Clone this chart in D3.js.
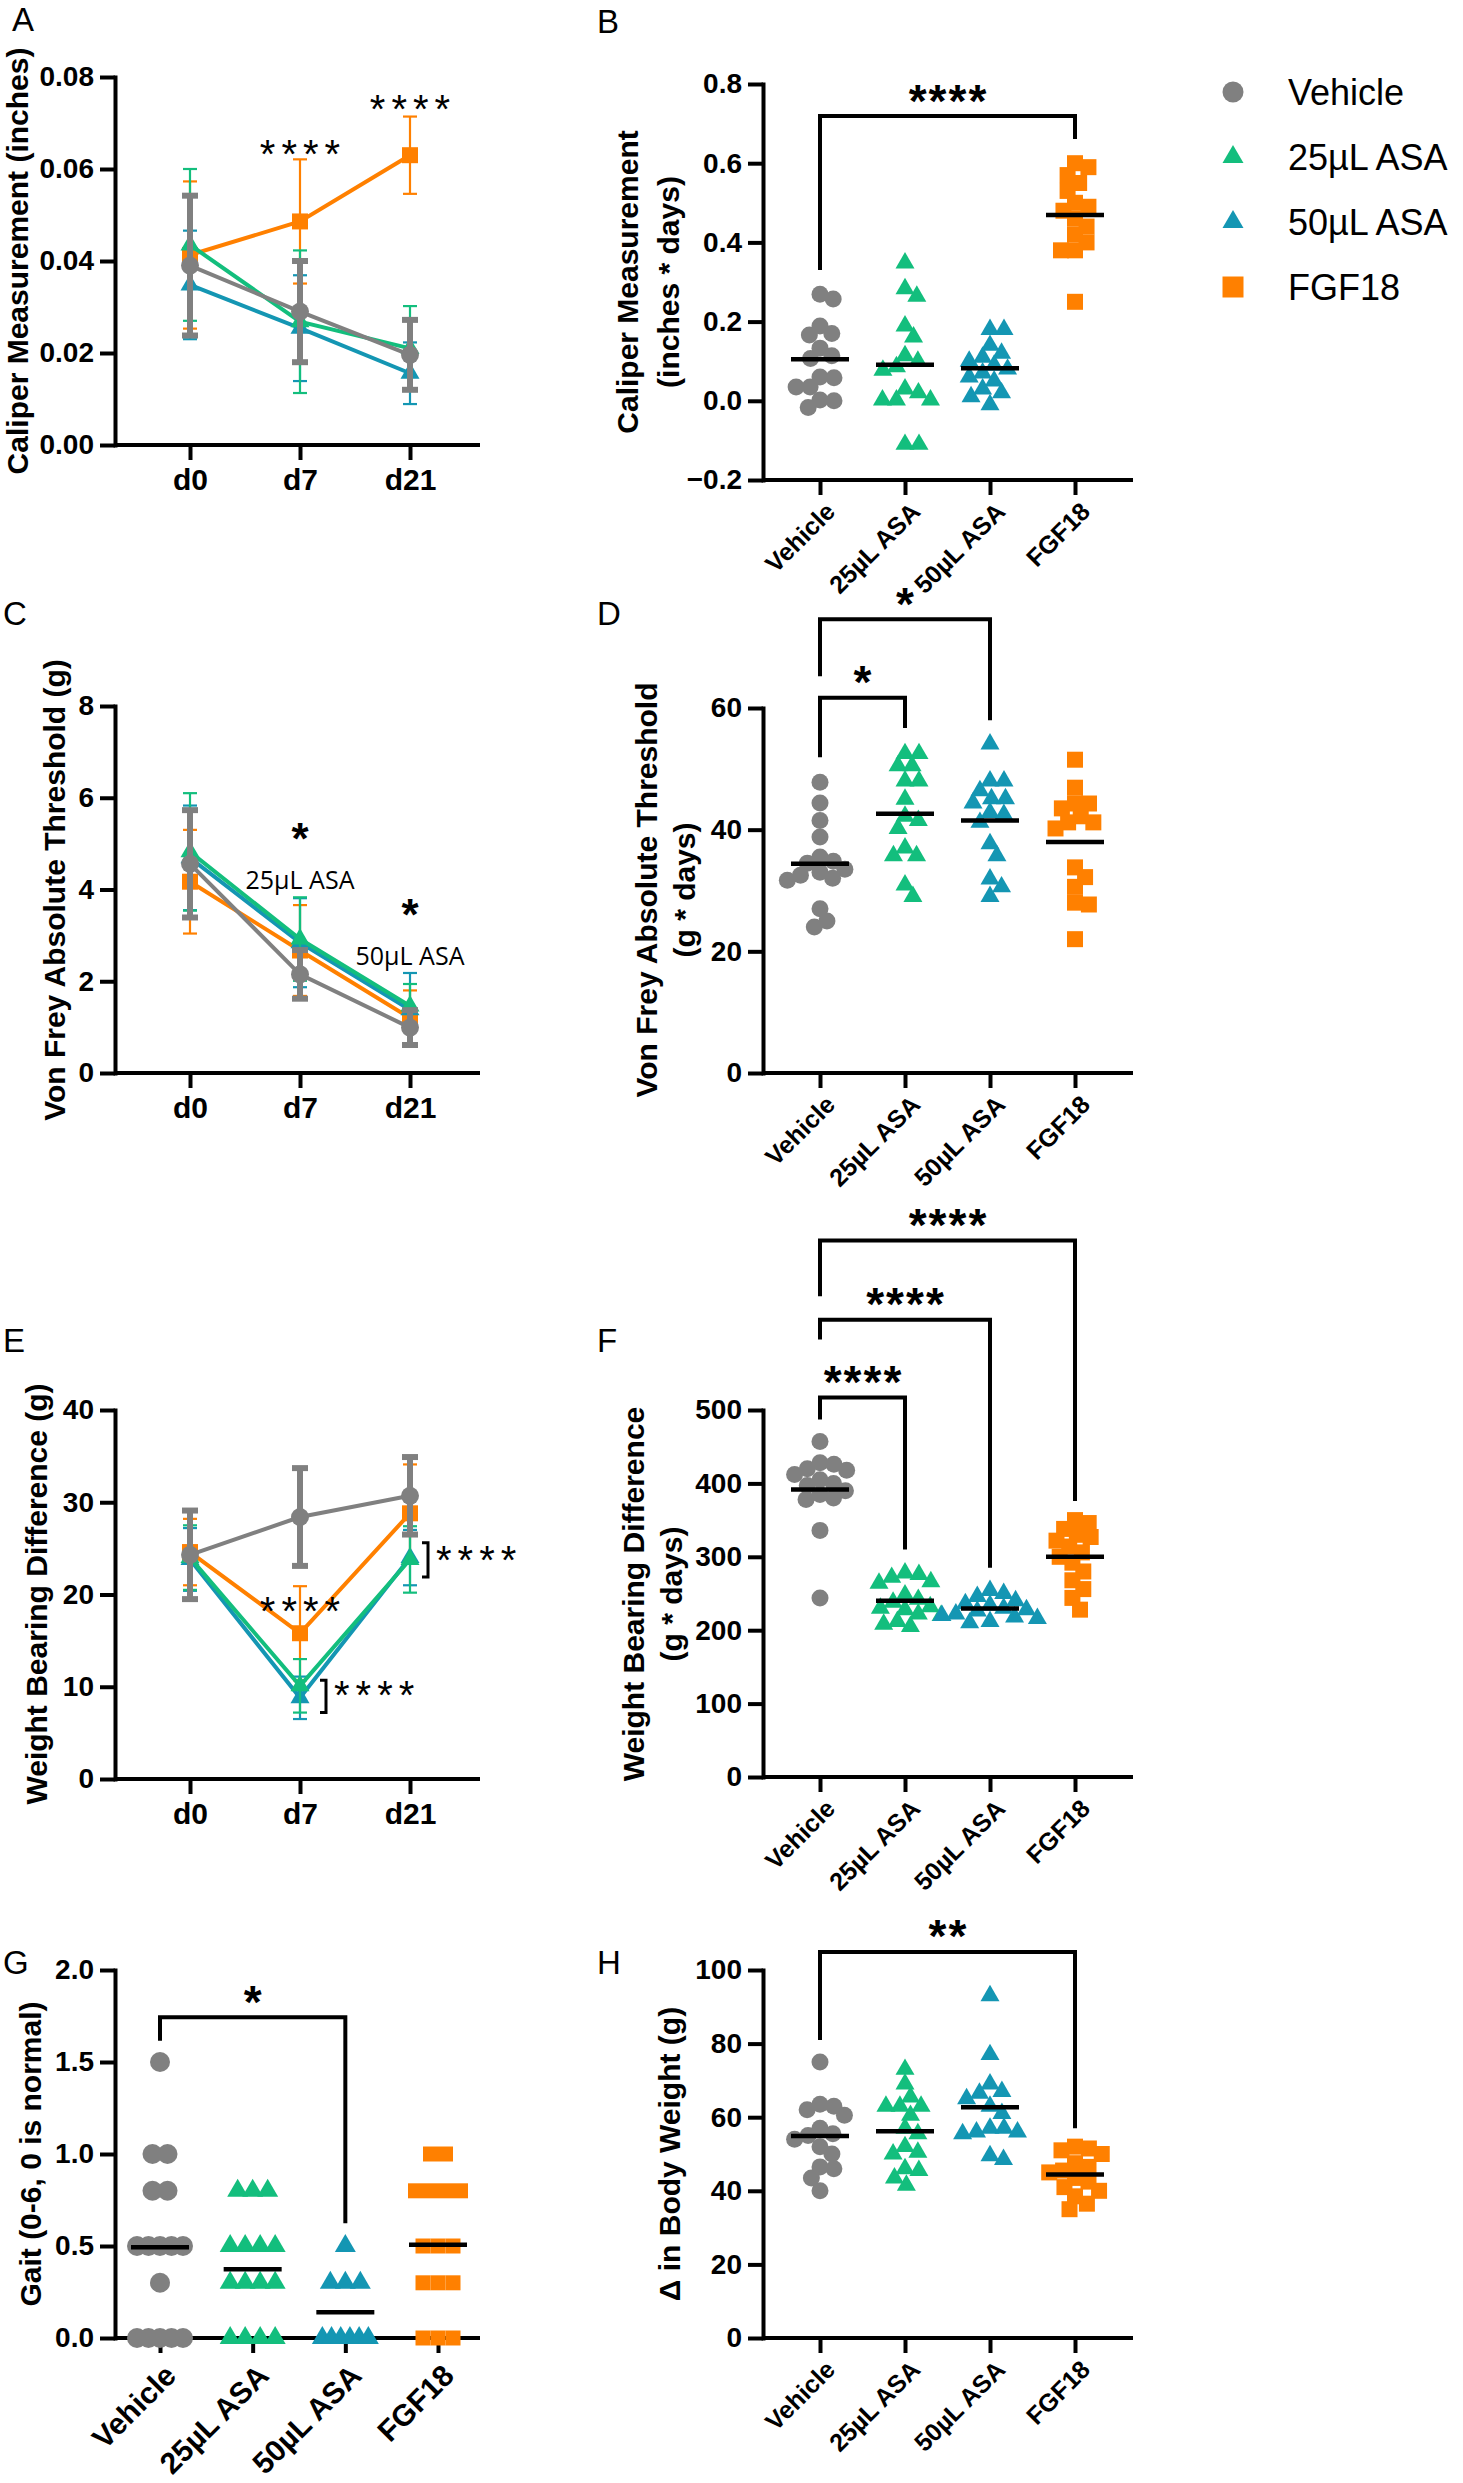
<!DOCTYPE html>
<html><head><meta charset="utf-8">
<script src="https://cdn.jsdelivr.net/npm/d3@7"></script>
<style>html,body{margin:0;padding:0;background:#fff}</style>
</head><body>
<script>
// ================= DATA =================
const groups = ["Vehicle", "25µL ASA", "50µL ASA", "FGF18"];
const days = ["d0", "d7", "d21"];

// A: caliper measurement (inches) — mean and SD, rows follow `groups`
const caliperMean = [
  [0.0390, 0.0290, 0.0196],
  [0.0435, 0.0268, 0.0210],
  [0.0348, 0.0254, 0.0156],
  [0.0413, 0.0486, 0.0630]
];
const caliperSD = [
  [0.0152, 0.0110, 0.0076],
  [0.0165, 0.0155, 0.0092],
  [0.0118, 0.0115, 0.0067],
  [0.0160, 0.0135, 0.0084]
];
const caliperTicks = [0, 0.02, 0.04, 0.06, 0.08];
const caliperStars = [{day: "d7", value: 0.0652, text: "****"}, {day: "d21", value: 0.0750, text: "****"}];

// B: caliper AUC (inches * days)
const caliperAUC = [
  [0.269, 0.257, 0.189, 0.170, 0.166, 0.133, 0.114, 0.107, 0.060, 0.058, 0.035, 0.035, 0.002, 0.000, -0.017],
  [0.348, 0.283, 0.264, 0.189, 0.161, 0.114, 0.100, 0.086, 0.077, 0.030, 0.020, 0.002, 0.002, 0.002, -0.110, -0.110],
  [0.180, 0.180, 0.140, 0.120, 0.110, 0.100, 0.090, 0.080, 0.070, 0.060, 0.050, 0.030, 0.020, 0.010, -0.010],
  [0.600, 0.590, 0.570, 0.550, 0.530, 0.500, 0.490, 0.480, 0.460, 0.440, 0.420, 0.400, 0.380, 0.380, 0.250]
];
const caliperAUCTicks = [-0.2, 0, 0.2, 0.4, 0.6, 0.8];
const caliperAUCSig = [{from: "Vehicle", to: "FGF18", top: 0.719, left: 0.33, right: 0.661, text: "****"}];

// C: von Frey absolute threshold (g)
const vonFreyMean = [
  [4.56, 2.15, 0.99],
  [4.82, 2.92, 1.46],
  [4.69, 2.84, 1.38],
  [4.17, 2.67, 1.20]
];
const vonFreySD = [
  [1.17, 0.53, 0.38],
  [1.28, 0.91, 0.48],
  [1.14, 0.97, 0.80],
  [1.13, 0.99, 0.60]
];
const vonFreyTicks = [0, 2, 4, 6, 8];
const vonFreyStars = [{day: "d7", value: 5.33, text: "*"}, {day: "d21", value: 3.66, text: "*"}];
const vonFreyNotes = [{day: "d7", value: 4.2, text: "25µL ASA"}, {day: "d21", value: 2.54, text: "50µL ASA"}];

// D: von Frey AUC (g * days)
const vonFreyAUC = [
  [47.8, 44.4, 41.5, 38.8, 35.5, 34.8, 34.5, 33.5, 33.0, 32.5, 32.0, 31.7, 27.0, 25.0, 24.0],
  [52.5, 52.5, 50.5, 50.5, 48.0, 48.0, 45.0, 42.2, 41.5, 40.2, 37.0, 35.7, 35.7, 30.9, 29.0],
  [54.1, 48.0, 48.0, 46.4, 45.1, 45.1, 44.4, 42.8, 42.5, 41.2, 37.7, 35.7, 31.9, 30.6, 29.0],
  [51.5, 46.9, 44.3, 44.3, 43.5, 42.2, 41.2, 41.2, 40.2, 33.8, 32.2, 30.6, 28.0, 27.7, 22.0]
];
const vonFreyAUCTicks = [0, 20, 40, 60];
const vonFreyAUCSig = [
  {from: "Vehicle", to: "25µL ASA", top: 61.7, left: 51.9, right: 56.7, text: "*"},
  {from: "Vehicle", to: "50µL ASA", top: 74.6, left: 65.2, right: 58.0, text: "*"}
];

// E: weight bearing difference (g)
const wbMean = [
  [24.3, 28.4, 30.7],
  [24.0, 10.1, 23.8],
  [23.8, 8.8, 24.0],
  [24.6, 15.8, 28.8]
];
const wbSD = [
  [4.8, 5.3, 4.2],
  [3.5, 2.9, 3.6],
  [3.4, 2.3, 3.0],
  [3.6, 5.1, 5.3]
];
const wbTicks = [0, 10, 20, 30, 40];
const wbStars = [{day: "d7", value: 19.2, text: "****"}];
const wbBrackets = [
  {day: "d7", top: 10.7, bottom: 7.2, value: 10.1, text: "****"},
  {day: "d21", top: 25.6, bottom: 21.9, value: 24.7, text: "****"}
];

// F: weight bearing AUC (g * days)
const wbAUC = [
  [457, 428, 426, 420, 418, 412, 405, 400, 397, 390, 385, 380, 378, 336, 244],
  [278, 276, 272, 266, 264, 248, 242, 238, 232, 230, 228, 222, 220, 212, 208, 205],
  [254, 250, 246, 240, 236, 234, 230, 228, 226, 222, 220, 218, 216, 212, 210],
  [350, 346, 338, 330, 327, 322, 314, 306, 300, 292, 280, 268, 256, 244, 228]
];
const wbAUCTicks = [0, 100, 200, 300, 400, 500];
const wbAUCSig = [
  {from: "Vehicle", to: "25µL ASA", top: 517, left: 487, right: 310, text: "****"},
  {from: "Vehicle", to: "50µL ASA", top: 623, left: 596, right: 285, text: "****"},
  {from: "Vehicle", to: "FGF18", top: 731, left: 655, right: 376, text: "****"}
];

// G: gait score
const gait = [
  [1.5, 1.0, 1.0, 0.8, 0.8, 0.5, 0.5, 0.5, 0.5, 0.5, 0.3, 0, 0, 0, 0, 0],
  [0.8, 0.8, 0.8, 0.5, 0.5, 0.5, 0.5, 0.3, 0.3, 0.3, 0.3, 0, 0, 0, 0],
  [0.5, 0.3, 0.3, 0.3, 0, 0, 0, 0, 0, 0],
  [1.0, 1.0, 0.8, 0.8, 0.8, 0.8, 0.5, 0.5, 0.5, 0.3, 0.3, 0.3, 0, 0, 0]
];
const gaitTicks = [0, 0.5, 1.0, 1.5, 2.0];
const gaitSig = [{from: "Vehicle", to: "50µL ASA", top: 1.743, left: 1.616, right: 0.623, text: "*"}];

// H: change in body weight (g)
const bodyWeight = [
  [75, 63.5, 63, 62, 60.5, 57, 55.5, 55, 54, 52, 50, 46.5, 46, 43.5, 40],
  [73, 69, 65.5, 63, 63, 63, 60.5, 57, 55.5, 52, 50.5, 50, 46, 45.5, 43.5, 41.5],
  [93, 77, 69, 67, 66.5, 65, 63, 61, 57, 57, 56, 56, 55.5, 49.5, 48.5],
  [52, 51.5, 51, 50, 47.5, 46.5, 45.5, 45, 43.5, 42.5, 41, 40, 38.5, 36.5, 35]
];
const bodyWeightTicks = [0, 20, 40, 60, 80, 100];
const bodyWeightSig = [{from: "Vehicle", to: "FGF18", top: 104.9, left: 81, right: 57, text: "**"}];

// ================= STYLE =================
const FONT = "'Liberation Sans', Arial, Helvetica, sans-serif";
const color = d3.scaleOrdinal().domain(groups).range(["#808080", "#13BE7D", "#1496B3", "#FF8000"]);
const shape = d3.scaleOrdinal().domain(groups).range([d3.symbolCircle, d3.symbolTriangle, d3.symbolTriangle, d3.symbolSquare]);
function markerPath(g, w) {
  const t = shape(g);
  let area;
  if (t === d3.symbolCircle) area = Math.PI * (w / 2) * (w / 2);
  else if (t === d3.symbolTriangle) area = Math.sqrt(3) / 4 * w * w;
  else area = w * w;
  return d3.symbol().type(t).size(area)();
}

const svg = d3.select("body").append("svg")
  .attr("width", 1463).attr("height", 2483)
  .style("font-family", FONT).style("display", "block");
svg.append("rect").attr("width", 1463).attr("height", 2483).attr("fill", "#fff");

function panelLetter(txt, x, y) {
  svg.append("text").attr("x", x).attr("y", y).attr("font-size", 33).attr("fill", "#000").text(txt);
}

function yAxis(y, x0, ticks, fmt) {
  const ax = svg.append("g").attr("transform", `translate(${x0},0)`)
    .call(d3.axisLeft(y).tickValues(ticks).tickFormat(fmt).tickSize(15).tickSizeOuter(0).tickPadding(6));
  ax.attr("font-family", FONT);
  ax.select(".domain").attr("stroke", "#000").attr("stroke-width", 4).attr("stroke-linecap", "square");
  ax.selectAll(".tick line").attr("stroke", "#000").attr("stroke-width", 4);
  ax.selectAll(".tick text").attr("font-size", 28).attr("font-weight", "bold").attr("fill", "#000");
  return ax;
}
function xAxisLine(x0, x1, yb) {
  svg.append("line").attr("x1", x0).attr("x2", x1).attr("y1", yb).attr("y2", yb)
    .attr("stroke", "#000").attr("stroke-width", 4);
}
function title(lines, cx, cy, gap) {
  lines.forEach((t, i) => {
    svg.append("text")
      .attr("transform", `translate(${cx + (i - (lines.length - 1) / 2) * gap},${cy}) rotate(-90)`)
      .attr("text-anchor", "middle").attr("dominant-baseline", "central")
      .attr("font-size", 30).attr("font-weight", "bold").attr("fill", "#000").text(t);
  });
}
function stars(text, cx, cy, fs, weight, spacing) {
  svg.append("text").attr("x", cx + spacing / 2).attr("y", cy + 0.575 * fs)
    .attr("text-anchor", "middle").attr("font-size", fs).attr("font-weight", weight)
    .attr("letter-spacing", spacing).attr("fill", "#000").text(text);
}

// ---------- line chart with SD error bars ----------
function lineChart(cfg) {
  const {x0, x1, yTop, yBot, domain, ticks, fmt, means, sds} = cfg;
  const x = d3.scalePoint().domain(days).range([190, 410]);
  const y = d3.scaleLinear().domain(domain).range([yBot, yTop]);
  yAxis(y, x0, ticks, fmt);
  xAxisLine(x0, x1, yBot);
  const xa = svg.append("g").attr("transform", `translate(0,${yBot})`)
    .call(d3.axisBottom(x).tickSize(15).tickSizeOuter(0).tickPadding(9));
  xa.attr("font-family", FONT);
  xa.select(".domain").remove();
  xa.selectAll(".tick line").attr("stroke", "#000").attr("stroke-width", 4);
  xa.selectAll(".tick text").attr("font-size", 30).attr("font-weight", "bold").attr("fill", "#000");

  const order = [3, 2, 1, 0];
  order.forEach(gi => {
    const g = groups[gi];
    const gr = svg.append("g");
    const thick = gi === 0;
    const pts = days.map((d, k) => ({d, m: means[gi][k], s: sds[gi][k]}));
    const eb = gr.append("g").attr("stroke", color(g)).attr("stroke-width", thick ? 6 : 2.2).attr("fill", "none");
    pts.forEach(p => {
      const cx = x(p.d), hw = thick ? 8 : 7;
      eb.append("line").attr("x1", cx).attr("x2", cx).attr("y1", y(p.m + p.s)).attr("y2", y(p.m - p.s));
      eb.append("line").attr("x1", cx - hw).attr("x2", cx + hw).attr("y1", y(p.m + p.s)).attr("y2", y(p.m + p.s));
      eb.append("line").attr("x1", cx - hw).attr("x2", cx + hw).attr("y1", y(p.m - p.s)).attr("y2", y(p.m - p.s));
    });
    gr.append("path").datum(pts).attr("fill", "none").attr("stroke", color(g)).attr("stroke-width", 4)
      .attr("d", d3.line().x(p => x(p.d)).y(p => y(p.m)));
    gr.selectAll(".mk").data(pts).join("path")
      .attr("transform", p => `translate(${x(p.d)},${y(p.m)})`)
      .attr("d", markerPath(g, gi === 3 ? 16 : (gi === 0 ? 18 : 19))).attr("fill", color(g));
  });
  return {x, y};
}

// ---------- scatter (dot plot) with mean line ----------
function beeswarm(vals, y, d) {
  const idx = d3.range(vals.length).sort((a, b) => d3.descending(vals[a], vals[b]));
  const placed = [], xs = new Array(vals.length);
  let side = 1;
  idx.forEach(i => {
    const yi = y(vals[i]);
    const near = placed.filter(p => Math.abs(p.y - yi) < d);
    let cands = [0];
    near.forEach(p => { const dx = Math.sqrt(d * d - (p.y - yi) ** 2); cands.push(p.x + dx, p.x - dx); });
    cands = cands.filter(c => near.every(p => (p.x - c) ** 2 + (p.y - yi) ** 2 >= d * d - 0.5));
    cands.sort((a, b) => (Math.abs(a) - Math.abs(b)) || (side * (b - a)));
    const xv = cands[0];
    side = xv > 0 ? -1 : 1;
    placed.push({x: xv, y: yi});
    xs[i] = xv;
  });
  return xs;
}
function rowSwarm(vals, spacing, maxSpan) {
  const xs = new Array(vals.length);
  const m = d3.group(d3.range(vals.length), i => vals[i]);
  for (const [, ids] of m) {
    const n = ids.length;
    const sp = n > 1 ? Math.min(spacing, maxSpan / (n - 1)) : 0;
    ids.forEach((id, k) => { xs[id] = (k - (n - 1) / 2) * sp; });
  }
  return xs;
}

function dotPlot(cfg) {
  const {x0, x1, yTop, yBot, domain, ticks, fmt, data, sig, range, labelFs, marker, rows} = cfg;
  const x = d3.scalePoint().domain(groups).range(range);
  const y = d3.scaleLinear().domain(domain).range([yBot, yTop]);
  yAxis(y, x0, ticks, fmt);
  xAxisLine(x0, x1, yBot);
  const xa = svg.append("g").attr("transform", `translate(0,${yBot})`)
    .call(d3.axisBottom(x).tickSize(15).tickSizeOuter(0));
  xa.attr("font-family", FONT);
  xa.select(".domain").remove();
  xa.selectAll(".tick line").attr("stroke", "#000").attr("stroke-width", 4);
  xa.selectAll(".tick text").attr("font-size", labelFs).attr("font-weight", "bold").attr("fill", "#000")
    .attr("text-anchor", "end").attr("x", 0).attr("y", 0).attr("dy", "0.35em")
    .attr("transform", `translate(10,${labelFs + 2}) rotate(-45)`);

  groups.forEach((g, gi) => {
    const vals = data[gi];
    const offs = rows ? rowSwarm(vals, rows.spacing, rows.span) : beeswarm(vals, y, marker.swarm);
    const gr = svg.append("g");
    gr.selectAll("path").data(vals).join("path")
      .attr("transform", (v, i) => `translate(${x(g) + offs[i]},${y(v)})`)
      .attr("d", markerPath(g, marker.size[gi])).attr("fill", color(g));
    const m = d3.mean(vals);
    gr.append("line").attr("x1", x(g) - 29).attr("x2", x(g) + 29).attr("y1", y(m)).attr("y2", y(m))
      .attr("stroke", "#000").attr("stroke-width", 4.5);
  });
  sig.forEach(s => {
    const xa1 = x(s.from), xb = x(s.to);
    svg.append("path").attr("fill", "none").attr("stroke", "#000").attr("stroke-width", 4)
      .attr("d", `M${xa1},${y(s.left)}V${y(s.top)}H${xb}V${y(s.right)}`);
    stars(s.text, (xa1 + xb) / 2, y(s.top) - 26, 46, "bold", 2);
  });
  return {x, y};
}

// ================= PANELS =================
// A
panelLetter("A", 12, 31);
const pA = lineChart({x0: 115, x1: 480, yTop: 77, yBot: 445, domain: [0, 0.08], ticks: caliperTicks,
  fmt: d3.format(".2f"), means: caliperMean, sds: caliperSD});
title(["Caliper Measurement (inches)"], 17, 261, 0);
caliperStars.forEach(s => stars(s.text, pA.x(s.day), pA.y(s.value), 40, "normal", 6));

// B
panelLetter("B", 597, 33);
dotPlot({x0: 763, x1: 1133, yTop: 84, yBot: 480, domain: [-0.2, 0.8], ticks: caliperAUCTicks,
  fmt: d3.format(".1f"), data: caliperAUC, sig: caliperAUCSig, range: [820, 1075], labelFs: 25,
  marker: {size: [17, 19, 19, 16], swarm: 14}});
title(["Caliper Measurement", "(inches * days)"], 648, 282, 41);

// Legend
groups.forEach((g, i) => {
  const cy = 92 + i * 65;
  svg.append("path").attr("transform", `translate(1233,${cy})`)
    .attr("d", markerPath(g, 21)).attr("fill", color(g));
  svg.append("text").attr("x", 1288).attr("y", cy).attr("dy", "0.36em")
    .attr("font-size", 36).attr("fill", "#000").text(g);
});

// C
panelLetter("C", 3, 625);
const pC = lineChart({x0: 115, x1: 480, yTop: 706, yBot: 1073, domain: [0, 8], ticks: vonFreyTicks,
  fmt: d3.format("d"), means: vonFreyMean, sds: vonFreySD});
title(["Von Frey Absolute Threshold (g)"], 54, 890, 0);
vonFreyStars.forEach(s => stars(s.text, pC.x(s.day), pC.y(s.value), 44, "bold", 0));
vonFreyNotes.forEach(n => svg.append("text").attr("x", pC.x(n.day)).attr("y", pC.y(n.value))
  .attr("dy", "0.36em").attr("text-anchor", "middle").attr("font-family", "'Open Sans', sans-serif")
  .attr("font-size", 25).attr("fill", "#000").text(n.text));

// D
panelLetter("D", 597, 625);
dotPlot({x0: 763, x1: 1133, yTop: 708, yBot: 1073, domain: [0, 60], ticks: vonFreyAUCTicks,
  fmt: d3.format("d"), data: vonFreyAUC, sig: vonFreyAUCSig, range: [820, 1075], labelFs: 25,
  marker: {size: [17, 19, 19, 16], swarm: 14}});
title(["Von Frey Absolute Threshold", "(g * days)"], 665, 890, 38);

// E
panelLetter("E", 3, 1352);
const pE = lineChart({x0: 115, x1: 480, yTop: 1410, yBot: 1779, domain: [0, 40], ticks: wbTicks,
  fmt: d3.format("d"), means: wbMean, sds: wbSD});
title(["Weight Bearing Difference (g)"], 36, 1594, 0);
wbStars.forEach(s => stars(s.text, pE.x(s.day), pE.y(s.value), 40, "normal", 6));
wbBrackets.forEach((b, i) => {
  const bx = pE.x(b.day) + (i === 0 ? 26 : 18);
  svg.append("path").attr("fill", "none").attr("stroke", "#000").attr("stroke-width", 3)
    .attr("d", `M${bx - 6},${pE.y(b.top)}H${bx}V${pE.y(b.bottom)}H${bx - 6}`);
  svg.append("text").attr("x", bx + 8).attr("y", pE.y(b.value) + 0.575 * 40)
    .attr("font-size", 40).attr("letter-spacing", 6).attr("fill", "#000").text(b.text);
});

// F
panelLetter("F", 597, 1352);
dotPlot({x0: 763, x1: 1133, yTop: 1410, yBot: 1777, domain: [0, 500], ticks: wbAUCTicks,
  fmt: d3.format("d"), data: wbAUC, sig: wbAUCSig, range: [820, 1075], labelFs: 25,
  marker: {size: [17, 19, 19, 16], swarm: 14}});
title(["Weight Bearing Difference", "(g * days)"], 652, 1594, 38);

// G
panelLetter("G", 3, 1974);
dotPlot({x0: 115, x1: 480, yTop: 1970, yBot: 2338, domain: [0, 2], ticks: gaitTicks,
  fmt: d3.format(".1f"), data: gait, sig: gaitSig, range: [160, 438], labelFs: 30,
  marker: {size: [20, 21, 21, 15]}, rows: {spacing: 15, span: 46}});
title(["Gait  (0-6, 0 is normal)"], 30, 2154, 0);

// H
panelLetter("H", 597, 1974);
dotPlot({x0: 763, x1: 1133, yTop: 1970, yBot: 2338, domain: [0, 100], ticks: bodyWeightTicks,
  fmt: d3.format("d"), data: bodyWeight, sig: bodyWeightSig, range: [820, 1075], labelFs: 25,
  marker: {size: [17, 19, 19, 16], swarm: 14}});
title(["Δ in Body Weight (g)"], 669, 2154, 0);
</script>
</body></html>
